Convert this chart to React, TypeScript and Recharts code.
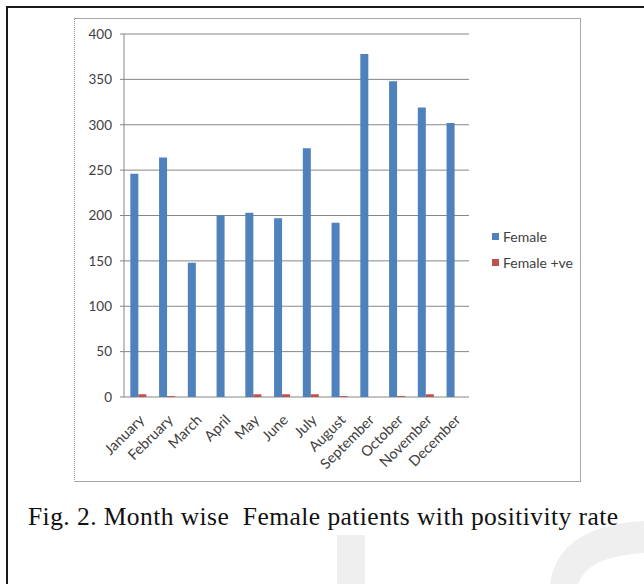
import React from 'react';
import { BarChart, Bar, XAxis, YAxis, CartesianGrid, Legend } from 'recharts';

const months = ['January', 'February', 'March', 'April', 'May', 'June', 'July', 'August', 'September', 'October', 'November', 'December'];
const female = [246, 264, 148, 200, 203, 197, 274, 192, 378, 348, 319, 302];
const femalePositive = [3, 1, 0, 0, 3, 3, 3, 1, 0, 1, 3, 0];
const yTicks = [0, 50, 100, 150, 200, 250, 300, 350, 400];
const boundaryTicks = [0, 1, 2, 3, 4, 5, 6, 7, 8, 9, 10, 11, 12];
const seriesNames = ['Female', 'Female +ve'];
const seriesColors = ['#4f81bd', '#c0504d'];
const caption = 'Fig. 2. Month wise  Female patients with positivity rate';

const data = months.map((m, i) => ({ month: m, female: female[i], femalePositive: femalePositive[i] }));

const AXIS = '#868686';
const TEXT = '#404040';
const FONT = 'Lato, "Open Sans", sans-serif';

const MonthTick = (props: any) => {
  const { x, y, payload } = props;
  const ax = x + 3;
  const ay = y + 20;
  return (
    <text x={ax} y={ay} transform={`rotate(-45 ${ax} ${ay})`} textAnchor="end" dominantBaseline="central" fontSize={14.5} fill={TEXT} fontFamily={FONT}>
      {payload.value}
    </text>
  );
};

const LegendContent = (props: any) => {
  const { payload } = props;
  return (
    <div style={{ fontFamily: FONT, fontSize: 14, color: TEXT }}>
      {(payload || []).map((p: any) => (
        <div key={p.value} style={{ display: 'flex', alignItems: 'center', height: 25.5 }}>
          <span style={{ display: 'inline-block', width: 7, height: 7, background: p.color, marginRight: 4 }} />
          <span>{p.value}</span>
        </div>
      ))}
    </div>
  );
};

export default function App() {
  return (
    <div style={{ position: 'fixed', left: 0, top: 0, width: 644, height: 584, background: '#fff', overflow: 'hidden' }}>
      <svg width={644} height={584} style={{ position: 'absolute', left: 0, top: 0 }}>
        <rect x={337} y={535} width={28} height={60} fill="#efefef" />
        <path d="M 550 584 Q 558 526 644 521 L 644 553 Q 588 556 578 584 Z" fill="#efefef" />
        <rect x={6} y={6} width={640} height={2} fill="#1a1a1a" />
        <rect x={6} y={6} width={2} height={590} fill="#1a1a1a" />
        <text x={28} y={525} fontSize={25.5} fontFamily='"Liberation Serif", serif' fill="#111" textLength={590} lengthAdjust="spacing" style={{ whiteSpace: 'pre' }}>
          {caption}
        </text>
      </svg>
      <div style={{ position: 'absolute', left: 74, top: 18, width: 507, height: 464, border: '1px solid #a6a6a6', borderLeft: '1px dotted #9a9a9a', boxSizing: 'border-box' }} />
      <div style={{ position: 'absolute', left: 75, top: 18 }}>
        <BarChart width={506} height={463} data={data} margin={{ top: 16, right: 112, bottom: 0, left: 19 }} barCategoryGap="22%" barGap={0}>
          <CartesianGrid xAxisId="cat" vertical={false} stroke={AXIS} strokeWidth={1} />
          <XAxis xAxisId="edge" type="number" domain={[0, 12]} ticks={boundaryTicks} tick={false} height={0} axisLine={{ stroke: AXIS }} tickLine={{ stroke: AXIS }} tickSize={5} allowDataOverflow />
          <XAxis xAxisId="cat" dataKey="month" height={84} axisLine={false} tickLine={false} tickSize={0} tickMargin={0} interval={0} tick={<MonthTick />} />
          <YAxis domain={[0, 400]} ticks={yTicks} width={30} axisLine={{ stroke: AXIS }} tickLine={{ stroke: AXIS }} tickSize={4} tickMargin={8} tick={{ fontSize: 13.5, fill: TEXT, fontFamily: FONT }} />
          <Legend layout="vertical" align="center" verticalAlign="middle" content={<LegendContent />} wrapperStyle={{ left: 417, top: 206, width: 'auto' }} />
          <Bar xAxisId="cat" dataKey="female" name={seriesNames[0]} fill={seriesColors[0]} isAnimationActive={false} />
          <Bar xAxisId="cat" dataKey="femalePositive" name={seriesNames[1]} fill={seriesColors[1]} isAnimationActive={false} />
        </BarChart>
      </div>
    </div>
  );
}
